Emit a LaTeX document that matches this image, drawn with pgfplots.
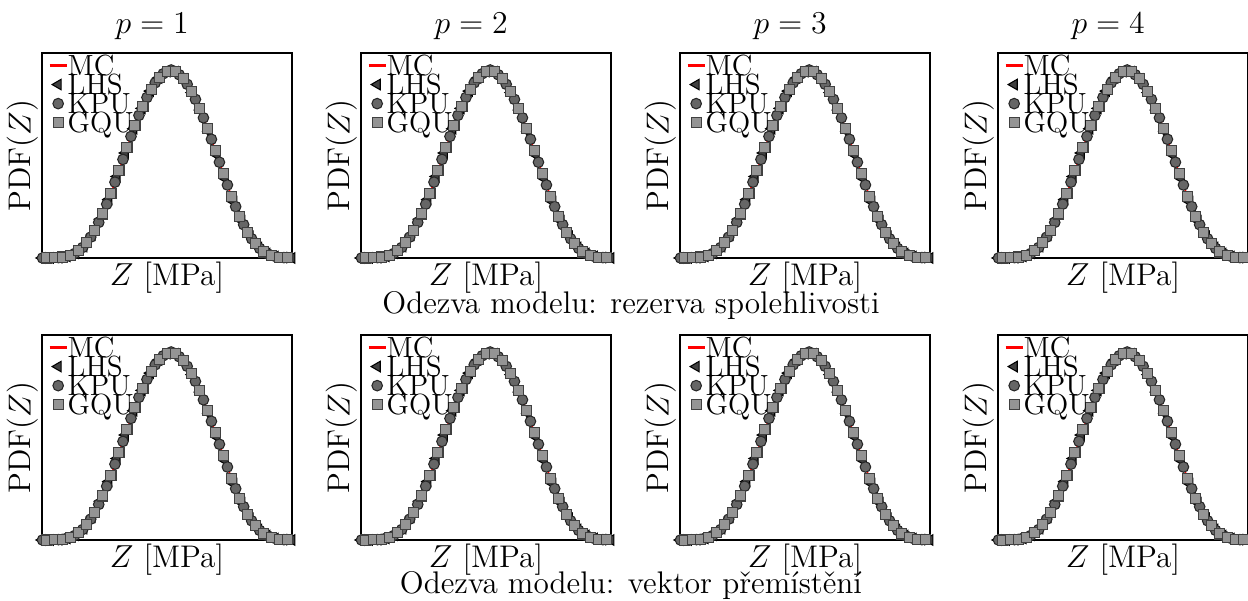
\documentclass[border=0pt]{standalone}
\usepackage{pgfplots}
\pgfplotsset{compat=1.18}
\usepackage{pgfplotstable}

% MC reference density (normalised, peak = 1)
\pgfplotstableread{
x y
0.000 0
0.040 0
0.065 0.002
0.090 0.006
0.115 0.014
0.140 0.030
0.165 0.058
0.190 0.100
0.215 0.155
0.240 0.225
0.265 0.305
0.290 0.395
0.315 0.490
0.340 0.585
0.365 0.680
0.390 0.765
0.415 0.840
0.440 0.905
0.465 0.955
0.490 0.985
0.515 1.000
0.540 0.985
0.565 0.955
0.590 0.905
0.615 0.840
0.640 0.765
0.665 0.680
0.690 0.585
0.715 0.490
0.740 0.395
0.765 0.305
0.790 0.225
0.815 0.155
0.840 0.100
0.865 0.058
0.890 0.030
0.915 0.014
0.940 0.006
0.965 0.002
0.990 0
1.000 0
}\mcdata

\pgfplotstableread{
x y
0.000 0
0.033 0
0.067 0.002
0.100 0.009
0.133 0.026
0.167 0.061
0.200 0.122
0.233 0.206
0.267 0.311
0.300 0.433
0.333 0.558
0.367 0.687
0.400 0.795
0.433 0.887
0.467 0.957
0.500 0.991
0.533 0.989
0.567 0.951
0.600 0.879
0.633 0.786
0.667 0.673
0.700 0.547
0.733 0.422
0.767 0.299
0.800 0.197
0.833 0.115
0.867 0.056
0.900 0.024
0.933 0.008
0.967 0.002
1.000 0
}\lhsdata

\pgfplotstableread{
x y
0.002 0
0.034 0
0.066 0.002
0.098 0.009
0.131 0.024
0.163 0.056
0.195 0.111
0.227 0.189
0.259 0.286
0.292 0.403
0.324 0.524
0.356 0.646
0.388 0.758
0.420 0.853
0.453 0.931
0.485 0.979
0.517 0.999
0.549 0.974
0.581 0.923
0.614 0.843
0.646 0.745
0.678 0.631
0.710 0.509
0.742 0.388
0.775 0.273
0.807 0.177
0.839 0.102
0.871 0.051
0.903 0.022
0.936 0.007
0.968 0.002
}\kpudata

\pgfplotstableread{
x y
0.018 0
0.050 0.001
0.082 0.005
0.115 0.014
0.147 0.038
0.179 0.081
0.211 0.146
0.243 0.234
0.276 0.345
0.308 0.463
0.340 0.585
0.372 0.704
0.404 0.807
0.437 0.897
0.469 0.960
0.501 0.992
0.533 0.989
0.565 0.955
0.598 0.884
0.630 0.795
0.662 0.690
0.694 0.570
0.726 0.448
0.759 0.327
0.791 0.222
0.823 0.137
0.855 0.075
0.888 0.032
0.920 0.012
0.952 0.004
0.984 0.001
}\gqudata

\pgfplotsset{
  pdfpanel/.style={
    scale only axis, width=94.3pt, height=77.4pt,
    xmin=0, xmax=1, ymin=0, ymax=1.09,
    xtick=\empty, ytick=\empty,
    clip=false,
    axis line style={line width=0.6pt},
    xlabel={$Z$ [MPa]}, ylabel={PDF($Z$)},
    xlabel style={at={(axis description cs:0.5,0)}, anchor=north, yshift=-1.5pt, inner sep=0pt},
    ylabel style={at={(axis description cs:-0.012,0.5)}, anchor=south, inner sep=0pt},
    % default title style already shifts 6pt up
    title style={at={(axis description cs:0.5,1)}, anchor=base, yshift=1.4pt, xshift=-5.6pt, inner sep=0pt},
    legend cell align=left,
    legend style={at={(axis description cs:0,1)}, anchor=north west, xshift=2.3pt, yshift=-0.8pt,
      draw=none, fill=none, inner sep=0pt, row sep=-0.3pt,
      font=\fontsize{11pt}{13pt}\selectfont,
      nodes={inner sep=0pt, text height=7.5pt, text depth=0pt},
      /tikz/every even column/.append style={column sep=0.5pt}},
  },
  mcline/.style={red, line width=0.6pt,
    legend image code/.code={\draw[red, line width=0.8pt] (0pt,0pt) -- (6.4pt,0pt);}},
  markleg/.style={only marks,
    legend image code/.code={\draw[mark repeat=2,mark phase=2,##1] plot coordinates {(0pt,0pt)(3.2pt,0pt)(6.4pt,0pt)};}},
  lhs/.style={markleg, mark=triangle*, mark size=2.3pt,
    mark options={rotate=90, fill=black!75, draw=black, line width=0.4pt}},
  kpu/.style={markleg, mark=*, mark size=2pt,
    mark options={fill=black!60, draw=black!85, line width=0.4pt}},
  gqu/.style={markleg, mark=square*, mark size=1.9pt,
    mark options={fill=black!42, draw=black!75, line width=0.4pt}},
}

\newcommand{\panel}[3]{%
  \begin{axis}[pdfpanel, at={(#1,#2)}, anchor=south west, title={#3}]
    \addplot[mcline] table[x=x, y=y] {\mcdata};
    \addlegendentry{MC}
    \addplot[lhs] table[x=x, y=y] {\lhsdata};
    \addlegendentry{LHS}
    \addplot[kpu] table[x=x, y=y] {\kpudata};
    \addlegendentry{KPU}
    \addplot[gqu] table[x=x, y=y] {\gqudata};
    \addlegendentry{GQU}
  \end{axis}}

\begin{document}
\fontsize{11.8pt}{14pt}\selectfont
\begin{tikzpicture}
  \panel{15.85pt}{129.06pt}{$p=1$}
  \panel{136.23pt}{129.06pt}{$p=2$}
  \panel{256.60pt}{129.06pt}{$p=3$}
  \panel{376.60pt}{129.06pt}{$p=4$}
  \panel{15.85pt}{22.64pt}{}
  \panel{136.23pt}{22.64pt}{}
  \panel{256.60pt}{22.64pt}{}
  \panel{376.60pt}{22.64pt}{}
  \node[anchor=base, inner sep=0pt] at (238.1pt,108.3pt) {Odezva modelu: rezerva spolehlivosti};
  \node[anchor=base, inner sep=0pt] at (238.1pt,2.3pt) {Odezva modelu: vektor přemístění};
  \pgfresetboundingbox
  \path (0pt,0pt) rectangle (470.94pt,226.42pt);
\end{tikzpicture}
\end{document}
